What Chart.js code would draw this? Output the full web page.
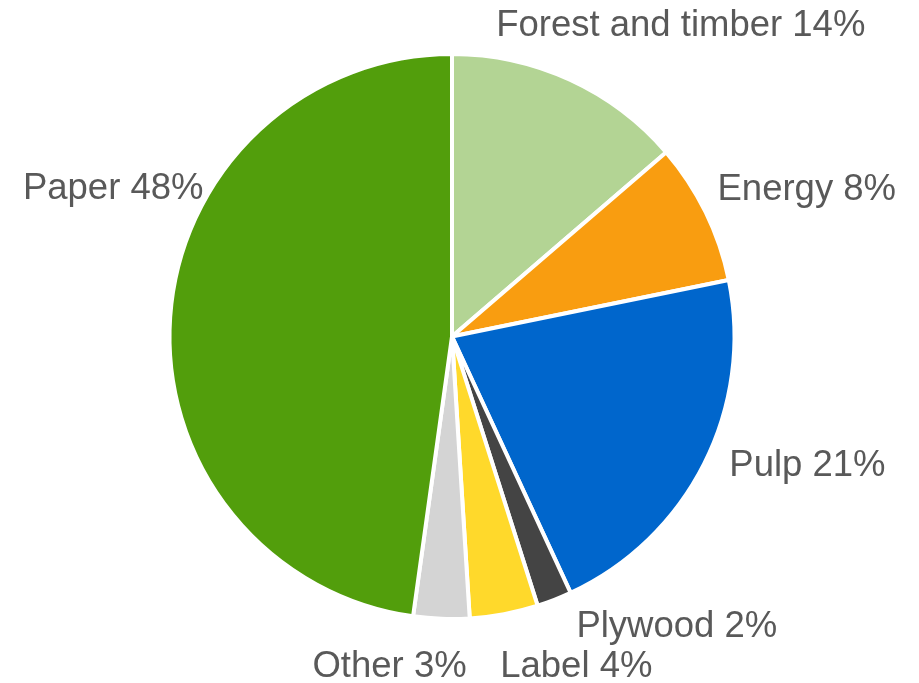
<!DOCTYPE html>
<html>
<head>
<meta charset="utf-8">
<script src="https://cdn.jsdelivr.net/npm/chart.js@4"></script>
<style>
  html, body { margin: 0; padding: 0; background: #fff; }
  #chart { display: block; }
</style>
</head>
<body>
<canvas id="chart" width="919" height="683"></canvas>
<script>
// business segments, clockwise from 12 o'clock
const segments = ['Forest and timber', 'Energy', 'Pulp', 'Plywood', 'Label', 'Other', 'Paper'];
const shares = [13.7, 8.1, 21.3, 2.0, 3.9, 3.2, 47.8];
const shareLabels = ['14%', '8%', '21%', '2%', '4%', '3%', '48%'];

const sliceColors = ['#b3d494', '#f99d10', '#0066cc', '#444444', '#ffd92b', '#d4d4d4', '#529e0c'];

// Excel moved some labels to avoid overlaps; these shift each label from its default spot
const labelNudge = [[13, 0], [-24, 2], [-11, -29], [68, -35], [49, -12], [-47, -18], [83, -127]];

const outsideLabels = {
    id: 'outsideLabels',
    afterDatasetsDraw(chart) {
        const ctx = chart.ctx;
        const meta = chart.getDatasetMeta(0);
        const fontSize = 36.5;
        const capHalf = fontSize * 0.716 / 2;
        const gap = 50;

        ctx.save();
        ctx.font = fontSize + 'px "Liberation Sans", Arial, sans-serif';
        ctx.fillStyle = '#595959';
        ctx.textAlign = 'center';
        ctx.textBaseline = 'alphabetic';

        meta.data.forEach((arc, i) => {
            const { x, y, startAngle, endAngle, outerRadius } = arc.getProps(['x', 'y', 'startAngle', 'endAngle', 'outerRadius'], true);
            const mid = (startAngle + endAngle) / 2;
            const cos = Math.cos(mid), sin = Math.sin(mid);
            const text = segments[i] + ' ' + shareLabels[i];
            const w = ctx.measureText(text).width;

            const px = x + cos * (outerRadius + gap);
            const py = y + sin * (outerRadius + gap);
            const cx = px + cos * w / 2 + labelNudge[i][0];
            const cy = py + sin * capHalf + labelNudge[i][1];

            ctx.fillText(text, cx, cy + capHalf);
        });
        ctx.restore();
    }
};

new Chart(document.getElementById('chart'), {
    type: 'pie',
    data: {
        labels: segments,
        datasets: [{
            data: shares,
            backgroundColor: sliceColors,
            borderColor: '#ffffff',
            borderWidth: 4
        }]
    },
    options: {
        responsive: false,
        animation: false,
        layout: {
            padding: { left: 167, right: 182, top: 52, bottom: 62 }
        },
        plugins: {
            legend: { display: false },
            tooltip: { enabled: false }
        }
    },
    plugins: [outsideLabels]
});
</script>
</body>
</html>
